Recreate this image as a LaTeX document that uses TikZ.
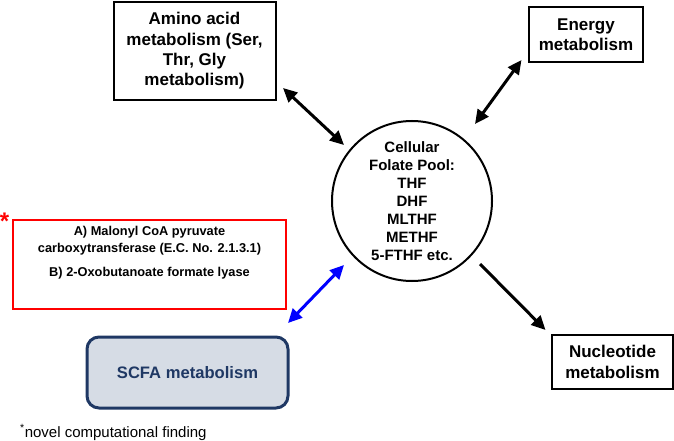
\documentclass[tikz,border=0pt]{standalone}
\usepackage{fontspec}
\setmainfont{Liberation Sans}
\usetikzlibrary{arrows.meta}

\definecolor{scfanavy}{HTML}{1F3864}
\definecolor{scfafill}{HTML}{D6DCE5}

\begin{document}
\begin{tikzpicture}[x=1pt,y=-1pt,
        metabox/.style={draw,line width=2pt,align=center,inner sep=0pt,
            font=\fontsize{17pt}{20.3pt}\selectfont\bfseries},
        tip/.tip={Triangle[length=14pt,width=13pt]},
        link/.style={line width=3pt,tip-tip},
    ]
        \useasboundingbox (0,0) rectangle (674,441);

        % metabolism boxes around the folate pool
        \node[metabox,minimum width=162pt,minimum height=98pt] (amino) at (194.5,51)
            {Amino acid\\metabolism (Ser,\\Thr, Gly\\metabolism)};
        \node[metabox,minimum width=114pt,minimum height=55pt] (energy) at (586,34.5)
            {Energy\\metabolism};
        \node[metabox,minimum width=121pt,minimum height=54pt] (nucleo) at (612.5,362)
            {Nucleotide\\metabolism};

        \node[draw,circle,line width=2pt,minimum size=160pt,inner sep=0pt,align=center,
            font=\fontsize{15pt}{18pt}\selectfont\bfseries] (pool) at (412,201)
            {Cellular\\Folate Pool:\\THF\\DHF\\MLTHF\\METHF\\5-FTHF etc.};

        \node[draw=red,line width=2pt,minimum width=273pt,minimum height=89pt] (enzbox) at (149.5,264.5) {};
        \node[anchor=north,inner sep=0pt,align=center,
            font=\fontsize{12.8pt}{17pt}\selectfont\bfseries] (enzymes) at ([yshift=-7pt]enzbox.north)
            {A) Malonyl CoA pyruvate\\carboxytransferase (E.C. No. 2.1.3.1)\\[7pt]B) 2-Oxobutanoate formate lyase};
        \node[text=red,inner sep=0pt,font=\fontsize{24pt}{24pt}\selectfont\bfseries] (star) at (4.5,221.5) {*};

        \node[draw=scfanavy,fill=scfafill,line width=3pt,rounded corners=12pt,
            minimum width=201pt,minimum height=71pt,text=scfanavy,
            font=\fontsize{16.6pt}{20pt}\selectfont\bfseries] (scfa) at (187.5,372.5) {SCFA metabolism};

        \node[anchor=base west,inner sep=0pt,font=\fontsize{15pt}{18pt}\selectfont] (note) at (20,437)
            {\textsuperscript{*}novel computational finding};

        % arrow ends
        \coordinate (amino end) at (283,88);
        \coordinate (pool nw) at (344,145);
        \coordinate (energy end) at (521.5,60);
        \coordinate (pool ne) at (475,124);
        \coordinate (pool se) at (480,264);
        \coordinate (nucleo end) at (545.5,330);
        \coordinate (pool sw) at (344,265);
        \coordinate (scfa end) at (288,323);

        \draw[link] (amino end) -- (pool nw);
        \draw[link] (energy end) -- (pool ne);
        \draw[link,-tip] (pool se) -- (nucleo end);
        \draw[link,blue] (pool sw) -- (scfa end);
    \end{tikzpicture}
\end{document}
